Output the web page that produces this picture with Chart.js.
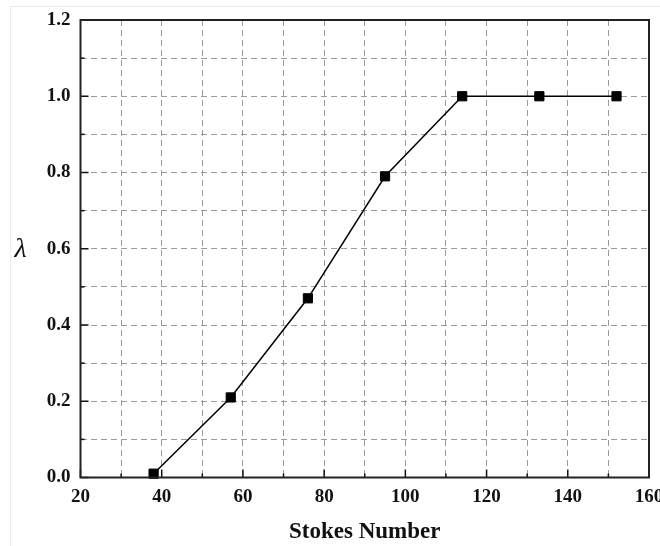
<!DOCTYPE html>
<html>
<head>
<meta charset="utf-8">
<script src="https://cdn.jsdelivr.net/npm/chart.js@4/dist/chart.umd.min.js"></script>
<style>
  html, body { margin: 0; padding: 0; background: #fff; }
  #wrap { position: relative; width: 660px; height: 546px; }
  #frame { position: absolute; left: 10px; top: 6px; width: 660px; height: 560px;
           border-left: 1px solid #ececec; border-top: 1px solid #ececec; pointer-events: none; }
  canvas { position: absolute; left: 0; top: 0; }
</style>
</head>
<body>
<div id="wrap">
  <div id="frame"></div>
  <canvas id="c" width="660" height="546"></canvas>
</div>
<script>
// ---- data ----
const stokesNumber = [38, 57, 76, 95, 114, 133, 152];
const lambdaValues = [0.01, 0.21, 0.47, 0.79, 1.0, 1.0, 1.0];
const xTickLabels = ['20', '40', '60', '80', '100', '120', '140', '160'];
const yTickLabels = ['0.0', '0.2', '0.4', '0.6', '0.8', '1.0', '1.2'];
const xTitle = 'Stokes Number';
const yTitle = 'λ';

const SERIF = '"Liberation Serif", "Times New Roman", serif';

const framePlugin = {
  id: 'framePlugin',
  afterDraw(chart) {
    const { ctx, chartArea: a, scales } = chart;
    ctx.save();
    // inward ticks
    ctx.strokeStyle = '#111';
    ctx.lineWidth = 1.5;
    scales.x.ticks.forEach(t => {
      const px = scales.x.getPixelForValue(t.value);
      const major = Math.round(t.value) % 20 === 0;
      const len = major ? 8 : 4;
      ctx.beginPath();
      ctx.moveTo(px, a.bottom);
      ctx.lineTo(px, a.bottom - len);
      ctx.stroke();
    });
    scales.y.ticks.forEach(t => {
      const py = scales.y.getPixelForValue(t.value);
      const major = Math.round(t.value * 10) % 2 === 0;
      const len = major ? 8 : 4;
      ctx.beginPath();
      ctx.moveTo(a.left, py);
      ctx.lineTo(a.left + len, py);
      ctx.stroke();
    });
    // box
    ctx.strokeStyle = '#222';
    ctx.lineWidth = 2;
    ctx.strokeRect(a.left, a.top, a.right - a.left, a.bottom - a.top);
    // y title (upright)
    ctx.fillStyle = '#111';
    ctx.font = 'italic 28px ' + SERIF;
    ctx.textAlign = 'center';
    ctx.textBaseline = 'middle';
    ctx.fillText(yTitle, a.left - 60, (a.top + a.bottom) / 2 + 1);
    ctx.restore();
  }
};

new Chart(document.getElementById('c'), {
  type: 'line',
  data: {
    datasets: [{
      data: stokesNumber.map((x, i) => ({ x: x, y: lambdaValues[i] })),
      borderColor: '#000',
      borderWidth: 1.5,
      pointStyle: 'rect',
      pointRadius: 6.5,
      pointBorderWidth: 1,
      pointBackgroundColor: '#000',
      pointBorderColor: '#000',
      tension: 0,
      clip: false
    }]
  },
  options: {
    responsive: false,
    animation: false,
    devicePixelRatio: 1,
    layout: { padding: { left: 0, right: 11, top: 20, bottom: 0 } },
    plugins: { legend: { display: false }, tooltip: { enabled: false } },
    scales: {
      x: {
        type: 'linear',
        min: 20, max: 160,
        afterFit(s) { s.height = 68.5; s.paddingLeft = 0; s.paddingRight = 0; },
        ticks: {
          stepSize: 10,
          padding: 8,
          color: '#111',
          maxRotation: 0,
          autoSkip: false,
          font: { family: SERIF, size: 19, weight: 'bold' },
          callback: (v) => {
            const idx = Math.round((v - 20) / 20);
            return (Math.round(v) % 20 === 0) ? xTickLabels[idx] : '';
          }
        },
        grid: { color: '#9a9a9a', lineWidth: 1, drawTicks: false },
        border: { display: false, dash: [6, 4] },
        title: {
          display: true, text: xTitle, color: '#111',
          font: { family: SERIF, size: 23, weight: 'bold' },
          padding: { top: 14, bottom: 0 }
        }
      },
      y: {
        type: 'linear',
        min: 0, max: 1.2,
        afterFit(s) { s.width = 80.5; s.paddingTop = 0; s.paddingBottom = 0; },
        ticks: {
          stepSize: 0.1,
          padding: 10,
          color: '#111',
          autoSkip: false,
          font: { family: SERIF, size: 19, weight: 'bold' },
          callback: (v) => {
            const k = Math.round(v * 10);
            return (k % 2 === 0) ? yTickLabels[k / 2] : '';
          }
        },
        grid: { color: '#9a9a9a', lineWidth: 1, drawTicks: false },
        border: { display: false, dash: [6, 4] }
      }
    }
  },
  plugins: [framePlugin]
});
</script>
</body>
</html>
